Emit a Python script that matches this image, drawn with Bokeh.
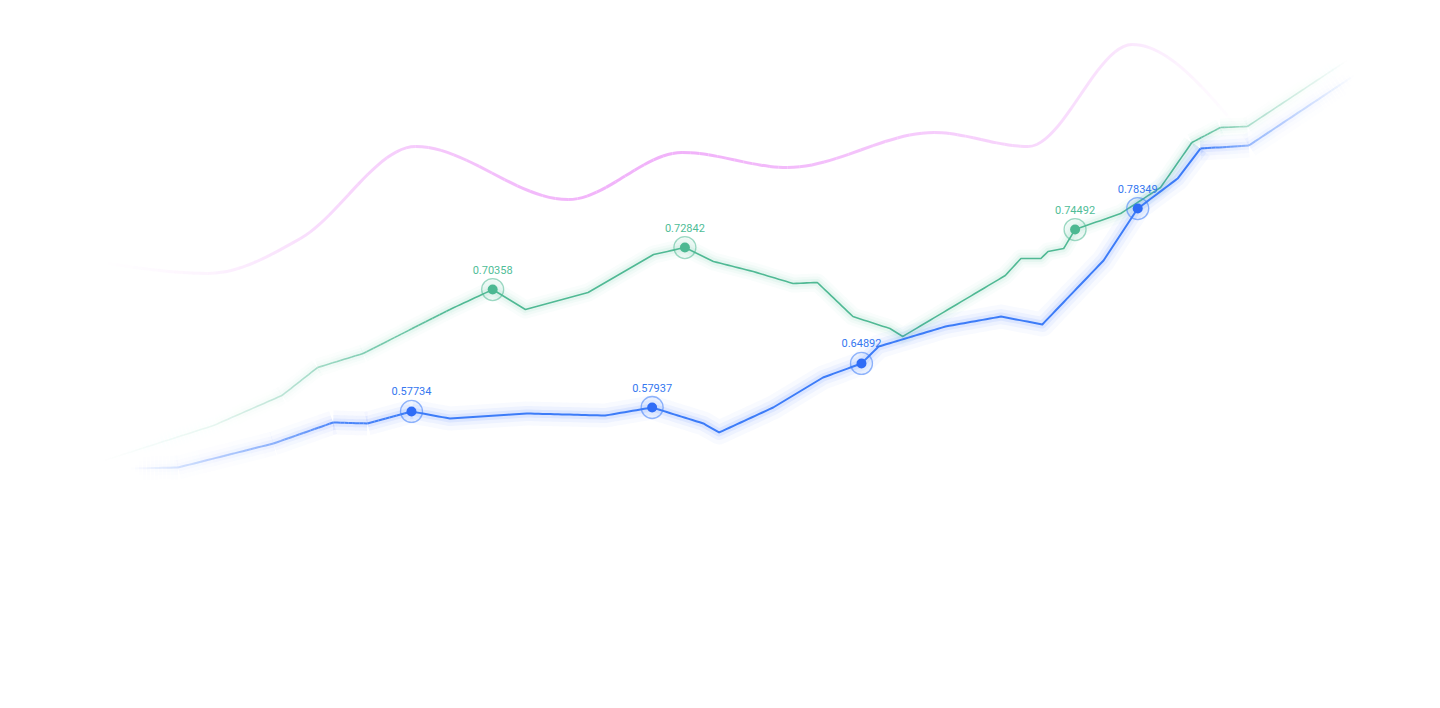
import numpy as np
from bokeh.plotting import figure
from bokeh.models import Range1d
from bokeh.core.properties import value
from bokeh.embed import file_html
from bokeh.resources import INLINE

# ---------------- data ----------------
green_x = [6.5, 14.4, 19.2, 21.7, 24.9, 31.0, 34.0, 36.3, 40.7, 45.3, 47.5, 49.5, 52.3, 55.1, 56.8,
           59.3, 61.9, 62.8, 70.0, 71.1, 72.5, 73.0, 74.1, 74.9, 78.1, 80.9, 83.1, 85.1, 87.0, 94.0]
green_y = [0.5575, 0.5875, 0.6125, 0.6358, 0.6475, 0.6842, 0.7008, 0.6842, 0.6983, 0.7300, 0.7358,
           0.7242, 0.7158, 0.7058, 0.7067, 0.6783, 0.6683, 0.6617, 0.7125, 0.7267, 0.7267, 0.7325,
           0.7350, 0.7508, 0.7642, 0.7858, 0.8233, 0.8358, 0.8367, 0.8917]
green_marks = [6, 10, 23]
green_labels = ["0.70358", "0.72842", "0.74492"]

blue_x = [8.6, 11.9, 18.6, 22.8, 25.2, 28.3, 31.0, 36.4, 41.9, 45.2, 48.8, 49.9, 53.7, 57.2, 59.9,
          61.1, 65.8, 69.7, 72.6, 76.9, 79.3, 82.1, 83.7, 87.1, 94.5]
blue_y = [0.5517, 0.5525, 0.5725, 0.5900, 0.5892, 0.5992, 0.5933, 0.5975, 0.5958, 0.6025, 0.5892,
          0.5817, 0.6025, 0.6275, 0.6392, 0.6533, 0.6700, 0.6783, 0.6717, 0.7250, 0.7683, 0.7933,
          0.8183, 0.8208, 0.8792]
blue_marks = [5, 9, 14, 20]
blue_labels = ["0.57734", "0.57937", "0.64892", "0.78349"]

pink_x = [7.0, 14.0, 20.5, 28.6, 39.3, 47.3, 54.7, 65.0, 71.6, 78.9, 86.2]
pink_y = [0.7225, 0.7142, 0.7433, 0.8200, 0.7758, 0.8150, 0.8025, 0.8317, 0.8200, 0.9050, 0.8375]

# ---------------- style ----------------
W, H = 1424, 692
X_RANGE = (-0.5618, 99.4382)
Y_RANGE = (0.365, 0.941667)
GREEN = "#50b994"
BLUE = "#3d7cf8"
PINK = "#f1b2fa"

# fade envelopes (x position -> opacity)
green_env = ([6.5, 14.4, 19.2, 24.9, 31.0, 83.1, 87.0, 94.0], [0.0, 0.12, 0.35, 0.7, 1.0, 1.0, 0.45, 0.0])
blue_env = ([8.6, 11.9, 18.6, 22.8, 28.3, 83.7, 87.1, 94.5], [0.0, 0.2, 0.55, 0.9, 1.0, 1.0, 0.5, 0.0])
pink_env = ([7.0, 14.0, 20.5, 28.6, 39.3, 47.3, 54.7, 65.0, 71.6, 78.9, 86.2],
            [0.0, 0.15, 0.4, 0.68, 0.95, 1.0, 0.88, 0.65, 0.52, 0.3, 0.0])

sx = W / (X_RANGE[1] - X_RANGE[0])
sy = H / (Y_RANGE[1] - Y_RANGE[0])

p = figure(width=W, height=H, x_range=Range1d(*X_RANGE), y_range=Range1d(*Y_RANGE),
           x_axis_type=None, y_axis_type=None, output_backend="svg", toolbar_location=None,
           min_border=0, background_fill_color="white", border_fill_color="white")
p.grid.visible = False
p.outline_line_color = None


def env_at(x, env):
    return np.interp(x, env[0], env[1])


def chunks(xs, ys, env, step_px=4.0):
    xs = np.asarray(xs, float)
    ys = np.asarray(ys, float)
    pts = []
    for i in range(len(xs) - 1):
        dx = (xs[i + 1] - xs[i]) * sx
        dy = (ys[i + 1] - ys[i]) * sy
        n = max(1, int(np.ceil(np.hypot(dx, dy) / step_px)))
        for k in range(n):
            t = k / n
            pts.append((xs[i] + t * (xs[i + 1] - xs[i]), ys[i] + t * (ys[i + 1] - ys[i])))
    pts.append((xs[-1], ys[-1]))
    out_x, out_y, out_a = [], [], []
    core_x, core_y = [], []
    for j in range(len(pts) - 1):
        (x0, y0), (x1, y1) = pts[j], pts[j + 1]
        a = float(env_at((x0 + x1) / 2, env))
        if a >= 0.999:
            if not core_x:
                core_x, core_y = [x0], [y0]
            core_x.append(x1)
            core_y.append(y1)
        else:
            if core_x:
                out_x.append(core_x); out_y.append(core_y); out_a.append(1.0)
                core_x, core_y = [], []
            out_x.append([x0, x1]); out_y.append([y0, y1]); out_a.append(a)
    if core_x:
        out_x.append(core_x); out_y.append(core_y); out_a.append(1.0)
    return out_x, out_y, np.array(out_a)


def draw_series(xs, ys, env, color, width, glow_color, glows):
    cx, cy, ca = chunks(xs, ys, env)
    for gw, galpha in glows:
        p.multi_line(cx, cy, line_color=glow_color, line_width=gw, line_alpha=list(ca * galpha),
                     line_join="round", line_cap="butt")
    p.multi_line(cx, cy, line_color=color, line_width=width, line_alpha=list(ca),
                 line_join="round", line_cap="butt")


# ---- pink smooth curve (monotone cubic through the points, drawn as bezier pieces) ----
def monotone_tangents(x, y):
    x = np.asarray(x, float); y = np.asarray(y, float)
    n = len(x)
    h = np.diff(x)
    s = np.diff(y) / h
    t = np.zeros(n)
    for i in range(1, n - 1):
        pp = (s[i - 1] * h[i] + s[i] * h[i - 1]) / (h[i - 1] + h[i])
        t[i] = (np.sign(s[i - 1]) + np.sign(s[i])) * min(abs(s[i - 1]), abs(s[i]), 0.5 * abs(pp))
    t[0] = (3 * s[0] - t[1]) / 2
    t[-1] = (3 * s[-1] - t[-2]) / 2
    return t


def draw_smooth(xs, ys, env, color, width, pieces=12):
    x = np.asarray(xs, float); y = np.asarray(ys, float)
    tg = monotone_tangents(x, y)
    bx0, by0, bx1, by1, c0x, c0y, c1x, c1y, al = [], [], [], [], [], [], [], [], []
    for i in range(len(x) - 1):
        h = x[i + 1] - x[i]
        P = np.array([[x[i], y[i]],
                      [x[i] + h / 3, y[i] + tg[i] * h / 3],
                      [x[i + 1] - h / 3, y[i + 1] - tg[i + 1] * h / 3],
                      [x[i + 1], y[i + 1]]])

        def B(t):
            return ((1 - t) ** 3) * P[0] + 3 * ((1 - t) ** 2) * t * P[1] + 3 * (1 - t) * t * t * P[2] + t ** 3 * P[3]

        def dB(t):
            return 3 * ((1 - t) ** 2) * (P[1] - P[0]) + 6 * (1 - t) * t * (P[2] - P[1]) + 3 * t * t * (P[3] - P[2])

        for k in range(pieces):
            ta, tb = k / pieces, (k + 1) / pieces
            A, Bp = B(ta), B(tb)
            C1 = A + (tb - ta) / 3 * dB(ta)
            C2 = Bp - (tb - ta) / 3 * dB(tb)
            bx0.append(A[0]); by0.append(A[1]); bx1.append(Bp[0]); by1.append(Bp[1])
            c0x.append(C1[0]); c0y.append(C1[1]); c1x.append(C2[0]); c1y.append(C2[1])
            al.append(float(env_at((A[0] + Bp[0]) / 2, env)))
    p.bezier(x0=bx0, y0=by0, x1=bx1, y1=by1, cx0=c0x, cy0=c0y, cx1=c1x, cy1=c1y,
             line_color=color, line_width=width, line_alpha=al)


draw_smooth(pink_x, pink_y, pink_env, PINK, 3)

draw_series(green_x, green_y, green_env, GREEN, 1.6, "#47c495",
            [(18, 0.03), (12, 0.045), (7, 0.07)])
draw_series(blue_x, blue_y, blue_env, BLUE, 2.0, "#3a6cff",
            [(24, 0.035), (15, 0.055), (8, 0.09)])


def draw_marks(xs, ys, idx, labels, color, dot_color, text_color):
    mx = [xs[i] for i in idx]
    my = [ys[i] for i in idx]
    p.scatter(mx, my, size=22, fill_color=color, fill_alpha=0.08, line_color=color,
              line_alpha=0.55, line_width=1.3)
    p.scatter(mx, my, size=10, fill_color=dot_color, line_color=None)
    p.text(mx, my, text=labels, text_align="center", text_baseline="middle", y_offset=-20,
           text_font=value("Roboto"), text_font_size="11px", text_color=text_color)


draw_marks(green_x, green_y, green_marks, green_labels, GREEN, "#4cb892", "#4fbd97")
draw_marks(blue_x, blue_y, blue_marks, blue_labels, BLUE, "#2f6cf6", "#3577f0")

open("out.html", "w").write(file_html(p, INLINE))
